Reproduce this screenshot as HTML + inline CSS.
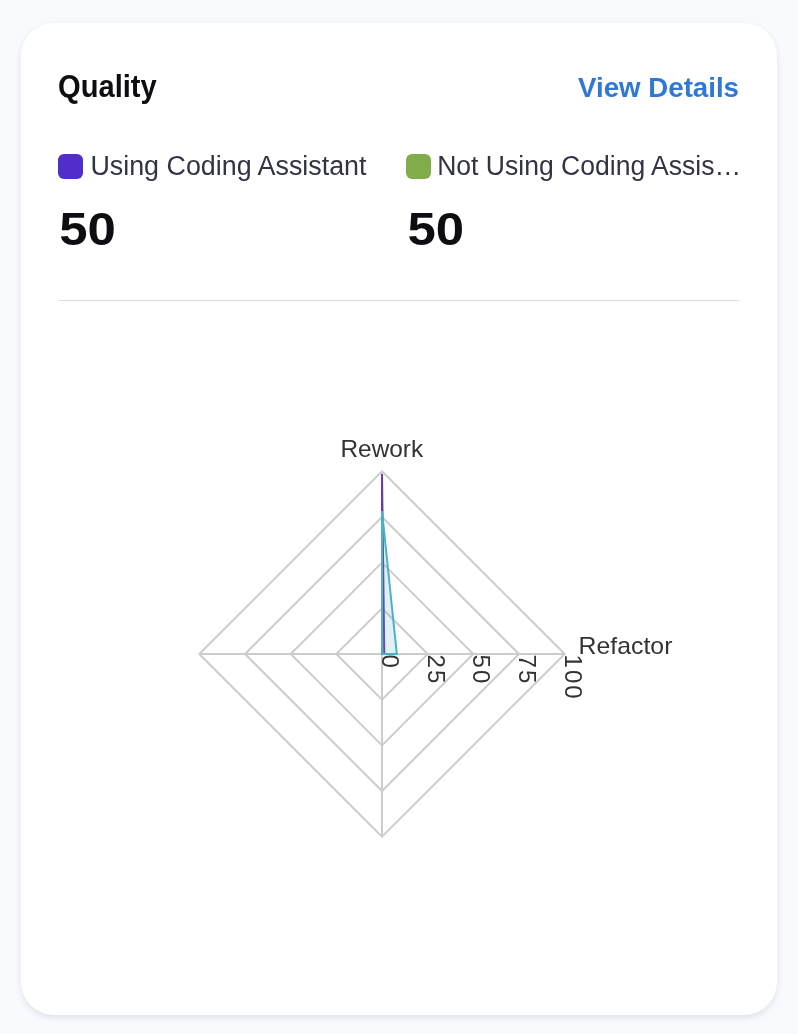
<!DOCTYPE html>
<html><head><meta charset="utf-8">
<style>
html,body{margin:0;padding:0;}
body{width:798px;height:1034px;background:#f9fafe;position:relative;overflow:hidden;font-family:"Liberation Sans",sans-serif;}
.card{position:absolute;left:21px;top:22.8px;width:756px;height:991.8px;background:#fff;border-radius:33px;box-shadow:0 3px 6px rgba(50,55,75,0.12);}
.sw{position:absolute;top:154.1px;width:24.6px;height:24.6px;border-radius:6px;}
.hr{position:absolute;left:58px;top:299.5px;width:682px;height:1px;background:#dedee8;}
svg{position:absolute;left:0;top:0;will-change:transform;}
text{font-family:"Liberation Sans",sans-serif;}
</style></head><body>
<div class="card"></div>
<div class="sw" style="left:58.3px;background:#512dcc"></div>
<div class="sw" style="left:406.3px;background:#82ac4a"></div>
<div class="hr"></div>
<svg width="798" height="1034" viewBox="0 0 798 1034">
<text x="58.10" y="96.60" font-size="30.5" font-weight="bold" fill="#0d0d12" textLength="98.60" lengthAdjust="spacingAndGlyphs">Quality</text>
<text x="578.10" y="96.80" font-size="27.2" font-weight="bold" fill="#3178d4" textLength="160.90" lengthAdjust="spacingAndGlyphs">View Details</text>
<text x="90.40" y="174.80" font-size="27" font-weight="normal" fill="#323444" textLength="276.10" lengthAdjust="spacingAndGlyphs">Using Coding Assistant</text>
<text x="437.20" y="174.80" font-size="27" font-weight="normal" fill="#323444" textLength="303.90" lengthAdjust="spacingAndGlyphs">Not Using Coding Assis…</text>
<text x="59.20" y="244.80" font-size="46" font-weight="bold" fill="#0d0d12" textLength="56.60" lengthAdjust="spacingAndGlyphs">50</text>
<text x="407.40" y="244.80" font-size="46" font-weight="bold" fill="#0d0d12" textLength="56.60" lengthAdjust="spacingAndGlyphs">50</text>
<g fill="none" stroke="#cccccc" stroke-width="2">
<polygon points="382.00,608.33 427.68,654.00 382.00,699.67 336.32,654.00"/>
<polygon points="382.00,562.65 473.35,654.00 382.00,745.35 290.65,654.00"/>
<polygon points="382.00,516.98 519.02,654.00 382.00,791.02 244.98,654.00"/>
<polygon points="382.00,471.30 564.70,654.00 382.00,836.70 199.30,654.00"/>
<line x1="382" y1="654" x2="382" y2="471.30"/>
<line x1="382" y1="654" x2="564.70" y2="654"/>
<line x1="382" y1="654" x2="382" y2="836.70"/>
<line x1="382" y1="654" x2="199.30" y2="654"/>
</g>
<polygon points="382,474 384.3,654 382,654 382,654" fill="rgba(110,50,170,0.3)" stroke="#7038a8" stroke-width="2"/>
<polygon points="382,511 396.8,654 382,654 382,654" fill="rgba(78,178,196,0.18)" stroke="#4cb1c2" stroke-width="2"/>
<text x="340.50" y="456.60" font-size="24" font-weight="normal" fill="#333333" textLength="82.70" lengthAdjust="spacingAndGlyphs">Rework</text>
<text x="578.60" y="653.80" font-size="24" font-weight="normal" fill="#333333" textLength="93.80" lengthAdjust="spacingAndGlyphs">Refactor</text>
<g font-size="24" fill="#333333" letter-spacing="2.0">
<text transform="rotate(90 382.00 654)" x="382.60" y="654.00">0</text>
<text transform="rotate(90 427.68 654)" x="428.28" y="654.00">25</text>
<text transform="rotate(90 473.35 654)" x="473.95" y="654.00">50</text>
<text transform="rotate(90 519.02 654)" x="519.62" y="654.00">75</text>
<text transform="rotate(90 564.70 654)" x="565.30" y="654.00">100</text>
</g>
</svg>
</body></html>
